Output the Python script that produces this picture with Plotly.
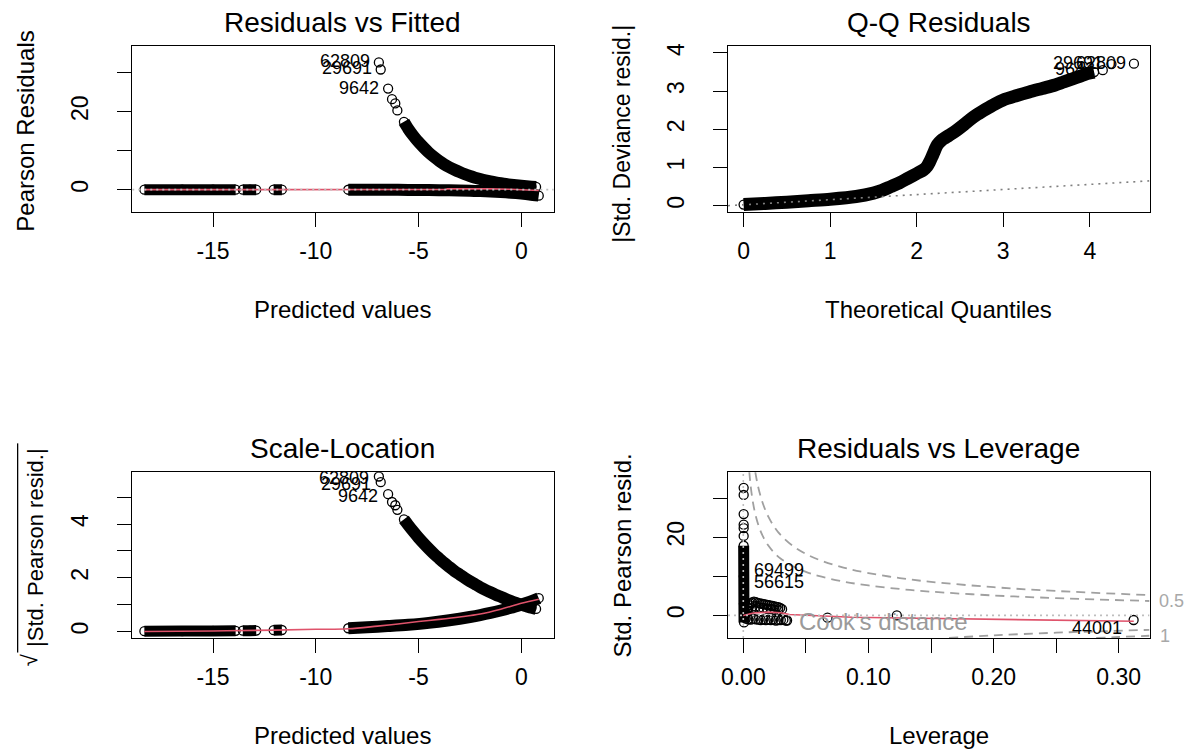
import plotly.graph_objects as go

W, H = 1186, 753
FONT = "Liberation Sans, Arial, sans-serif"
RED = "#DF536B"

# ---------------- Panel 1: Residuals vs Fitted ----------------
rvf_pos_fitted = [-5.71, -5.5, -5.25, -5.0, -4.75, -4.5, -4.25, -4.0, -3.75, -3.5, -3.25, -3.0, -2.75,
                  -2.5, -2.25, -2.0, -1.75, -1.5, -1.25, -1.0, -0.75, -0.5, -0.25, 0.0, 0.25, 0.5, 0.72]
rvf_pos_resid = [17.4, 15.6, 13.8, 12.2, 10.8, 9.5, 8.4, 7.4, 6.5, 5.75, 5.1, 4.5, 3.96,
                 3.5, 3.08, 2.72, 2.4, 2.12, 1.87, 1.65, 1.45, 1.28, 1.13, 1.0, 0.88, 0.78, 0.7]
rvf_neg_fitted = [-8.42, -7.5, -6.5, -5.5, -4.5, -3.5, -2.5, -2.0, -1.5, -1.0, -0.5, 0.0, 0.4, 0.85]
rvf_neg_resid = [-0.015, -0.024, -0.039, -0.064, -0.105, -0.174, -0.287, -0.368, -0.472, -0.607,
                 -0.779, -1.0, -1.22, -1.53]
rvf_low_a_fitted = [-18.34, -16.5, -15.0, -13.9]
rvf_low_a_resid = [-0.0001, -0.0002, -0.0003, -0.0005]
rvf_low_b_fitted = [-13.55, -13.2, -12.9]
rvf_low_b_resid = [-0.0006, -0.0007, -0.0008]
rvf_low_c_fitted = [-12.05, -11.65]
rvf_low_c_resid = [-0.001, -0.0015]
rvf_out_fitted = [-6.93, -6.84, -6.48, -6.29, -6.13, -6.03]
rvf_out_resid = [32.6, 30.8, 25.9, 23.2, 22.1, 20.3]
rvf_smooth_fitted = [-18.34, -15.0, -12.0, -8.42, -6.0, -4.5, -3.7, -3.6, -2.5, -1.5, -0.5, 0.3, 0.85]
rvf_smooth_resid = [0.0, 0.0, 0.0, 0.0, 0.01, 0.02, 0.05, 0.2, 0.25, 0.2, 0.1, -0.05, -0.2]
id_labels = ["62809", "29691", "9642"]

# ---------------- Panel 2: Q-Q Residuals ----------------
qq_theor = [0.0, 0.25, 0.5, 0.75, 1.0, 1.3, 1.5, 1.6, 1.7, 1.8, 1.9, 2.0, 2.08, 2.12, 2.15, 2.18,
            2.21, 2.24, 2.28, 2.33, 2.4, 2.47, 2.55, 2.62, 2.7, 2.8, 2.9, 3.0, 3.15, 3.3, 3.45,
            3.6, 3.7, 3.8, 3.9, 3.97, 4.05]
qq_resid = [0.03, 0.06, 0.09, 0.13, 0.17, 0.24, 0.33, 0.4, 0.5, 0.6, 0.72, 0.84, 0.94, 1.03, 1.15,
            1.3, 1.46, 1.6, 1.7, 1.78, 1.88, 1.99, 2.13, 2.26, 2.39, 2.53, 2.66, 2.77, 2.88, 2.98,
            3.07, 3.16, 3.24, 3.32, 3.4, 3.46, 3.5]
qq_out_theor = [4.15, 4.25, 4.51]
qq_out_resid = [3.55, 3.71, 3.72]
qq_ref_theor = [-0.18, 4.69]
qq_ref_resid = [0.0, 0.65]
qq_labels = ["9642", "29691", "62809"]

# ---------------- Panel 3: Scale-Location ----------------
sl_pos_fitted = rvf_pos_fitted
sl_pos_sqrt = [4.17, 3.96, 3.72, 3.49, 3.28, 3.08, 2.89, 2.72, 2.55, 2.40, 2.25, 2.12, 1.99,
               1.87, 1.76, 1.65, 1.55, 1.46, 1.37, 1.29, 1.21, 1.13, 1.06, 1.0, 0.94, 0.88, 0.84]
sl_neg_fitted = rvf_neg_fitted
sl_neg_sqrt = [0.12, 0.155, 0.2, 0.25, 0.32, 0.42, 0.54, 0.61, 0.69, 0.78, 0.88, 1.0, 1.1, 1.24]
sl_low_a_sqrt = [0.01, 0.015, 0.02, 0.025]
sl_low_b_sqrt = [0.03, 0.03, 0.035]
sl_low_c_sqrt = [0.05, 0.055]
sl_out_sqrt = [5.77, 5.56, 5.11, 4.82, 4.70, 4.53]
sl_smooth_fitted = [-18.34, -15.0, -12.0, -10.0, -8.42, -7.0, -6.0, -5.0, -4.0, -3.0, -2.0, -1.0, 0.0, 0.85]
sl_smooth_sqrt = [0.0, 0.02, 0.05, 0.08, 0.1, 0.2, 0.28, 0.37, 0.45, 0.54, 0.65, 0.83, 1.05, 1.2]

# ---------------- Panel 4: Residuals vs Leverage ----------------
lev_col_h = [0.0003, 0.0004, 0.0005, 0.0006]
lev_col_r = [17.8, 10.0, 3.0, -1.8]
lev_out_h = [0.0003, 0.0003, 0.0003, 0.0003, 0.0003, 0.0003]
lev_out_r = [32.6, 30.8, 25.9, 23.2, 22.3, 20.3]
lev_up_h = [0.002, 0.003, 0.004, 0.005, 0.006, 0.007, 0.0085, 0.010, 0.0115, 0.013, 0.0145, 0.016,
            0.0175, 0.019, 0.0205, 0.022, 0.0235, 0.025, 0.0265, 0.028, 0.0295, 0.031,
            0.004, 0.007, 0.010, 0.013, 0.016, 0.019, 0.022, 0.025, 0.028]
lev_up_r = [0.5, 1.2, 2.0, 2.6, 3.0, 3.3, 3.5, 3.4, 3.2, 3.1, 3.0, 2.9, 2.8, 2.7, 2.6, 2.5,
            2.4, 2.3, 2.2, 2.1, 1.9, 1.6,
            1.0, 1.8, 2.3, 2.0, 1.9, 1.7, 1.6, 1.4, 1.3]
lev_lo_h = [0.002, 0.004, 0.006, 0.008, 0.010, 0.012, 0.014, 0.016, 0.018, 0.020, 0.022, 0.024,
            0.026, 0.028, 0.030, 0.032, 0.034, 0.035]
lev_lo_r = [-0.8, -1.0, -1.1, -0.9, -1.0, -1.1, -1.2, -1.0, -1.2, -1.1, -1.2, -1.0, -1.3, -1.2,
            -1.2, -1.1, -1.3, -1.3]
lev_far_h = [0.0673, 0.1227, 0.3119]
lev_far_r = [-0.59, 0.0, -1.17]
lev_smooth_h = [0.0, 0.008, 0.02, 0.03, 0.037, 0.06, 0.087, 0.127, 0.19, 0.25, 0.312]
lev_smooth_r = [0.0, 0.6, 0.85, 0.7, 0.25, -0.15, -0.45, -0.67, -1.0, -1.35, -1.5]
cook1_h = [0.0096, 0.011, 0.013, 0.016, 0.02, 0.025, 0.03, 0.04, 0.05, 0.06, 0.08, 0.1, 0.125,
           0.15, 0.2, 0.25, 0.3246]
cook1_r = [36.63, 34.19, 31.42, 28.28, 25.24, 22.52, 20.50, 17.66, 15.72, 14.27, 12.23, 10.82,
           9.54, 8.58, 7.21, 6.24, 5.20]
cook05_h = [0.0048, 0.0055, 0.0065, 0.008, 0.01, 0.013, 0.016, 0.02, 0.025, 0.03, 0.04, 0.05,
            0.06, 0.08, 0.1, 0.125, 0.15, 0.2, 0.25, 0.3246]
cook05_r = [36.71, 34.28, 31.52, 28.39, 25.37, 22.21, 19.99, 17.85, 15.92, 14.50, 12.49, 11.11,
            10.09, 8.65, 7.65, 6.75, 6.07, 5.10, 4.42, 3.68]
cook05_lo_h = [0.1644, 0.2, 0.25, 0.3246]
cook05_lo_r = [-5.75, -5.10, -4.42, -3.68]
cook1_lo_h = [0.282, 0.3, 0.3246]
cook1_lo_r = [-5.75, -5.51, -5.20]
lev_labels = ["69499", "56615"]
lev_label_h = [0.003, 0.003]
lev_label_r = [11.37, 8.4]
lev_far_label = "44001"
cook_levels = ["0.5", "1"]

# ---------------- layout geometry (pixels) ----------------
def pxx(px):
    return px / W

def pxy(py):
    return 1 - py / H

L1, R1 = 126, 550
L2, R2 = 725.3, 1149.3
T1, B1 = 42.7, 209.3
T2, B2 = 470.7, 637.3

fig = go.Figure()

circ = dict(symbol="circle-open", size=9, color="black", line=dict(width=1.3, color="black"))


def band(x, y, xa, ya, width=12):
    fig.add_trace(go.Scatter(x=x, y=y, mode="lines+markers", xaxis=xa, yaxis=ya,
                             line=dict(color="black", width=width, shape="spline", smoothing=0.8),
                             marker=circ, hoverinfo="skip", showlegend=False))


def pts(x, y, xa, ya):
    fig.add_trace(go.Scatter(x=x, y=y, mode="markers", xaxis=xa, yaxis=ya, marker=circ,
                             hoverinfo="skip", showlegend=False))


def line(x, y, xa, ya, color, width, dash="solid", shape="linear"):
    fig.add_trace(go.Scatter(x=x, y=y, mode="lines", xaxis=xa, yaxis=ya,
                             line=dict(color=color, width=width, dash=dash, shape=shape),
                             hoverinfo="skip", showlegend=False))


# Panel 1
band(rvf_low_a_fitted, rvf_low_a_resid, "x", "y", 11)
band(rvf_low_b_fitted, rvf_low_b_resid, "x", "y", 11)
band(rvf_low_c_fitted, rvf_low_c_resid, "x", "y", 11)
band(rvf_neg_fitted, rvf_neg_resid, "x", "y")
band(rvf_pos_fitted, rvf_pos_resid, "x", "y")
pts(rvf_out_fitted, rvf_out_resid, "x", "y")
line(rvf_smooth_fitted, rvf_smooth_resid, "x", "y", RED, 1.6)
line([-18.93, 1.58], [0, 0], "x", "y", "#BEBEBE", 1.6, "2px,4px")

# Panel 2
band(qq_theor, qq_resid, "x2", "y2", width=13)
pts(qq_out_theor, qq_out_resid, "x2", "y2")
line(qq_ref_theor, qq_ref_resid, "x2", "y2", "#7F7F7F", 1.6, "2px,5px")

# Panel 3
band(rvf_low_a_fitted, sl_low_a_sqrt, "x3", "y3", 11)
band(rvf_low_b_fitted, sl_low_b_sqrt, "x3", "y3", 11)
band(rvf_low_c_fitted, sl_low_c_sqrt, "x3", "y3", 11)
band(sl_neg_fitted, sl_neg_sqrt, "x3", "y3")
band(sl_pos_fitted, sl_pos_sqrt, "x3", "y3")
pts(rvf_out_fitted, sl_out_sqrt, "x3", "y3")
line(sl_smooth_fitted, sl_smooth_sqrt, "x3", "y3", RED, 1.6, shape="spline")

# Panel 4
band(lev_col_h, lev_col_r, "x4", "y4", width=11)
pts(lev_out_h, lev_out_r, "x4", "y4")
pts(lev_up_h, lev_up_r, "x4", "y4")
pts(lev_lo_h, lev_lo_r, "x4", "y4")
pts(lev_far_h, lev_far_r, "x4", "y4")
line(lev_smooth_h, lev_smooth_r, "x4", "y4", RED, 1.6)
line([-0.0122, 0.3246], [0, 0], "x4", "y4", "#BEBEBE", 1.6, "2px,4px")
line([0, 0], [-5.75, 36.6], "x4", "y4", "#BEBEBE", 1.6, "2px,4px")
for hh, rr in [(cook1_h, cook1_r), (cook05_h, cook05_r), (cook05_lo_h, cook05_lo_r), (cook1_lo_h, cook1_lo_r)]:
    line(hh, rr, "x4", "y4", "#A0A0A0", 1.8, "9px,6px", "spline")


def axis(domain, rng, tickvals, ticktext, anchor, is_y):
    return dict(domain=domain, range=rng, tickmode="array", tickvals=tickvals, ticktext=ticktext,
                showline=True, mirror=True, linecolor="black", linewidth=1.3,
                ticks="outside", ticklen=14, tickwidth=1.3, tickcolor="black",
                showgrid=False, zeroline=False, anchor=anchor,
                tickfont=dict(size=23, color="black", family=FONT),
                tickangle=-90 if is_y else 0,
                ticklabelstandoff=20 if is_y else 4, fixedrange=True)


xd1 = [pxx(L1), pxx(R1)]
xd2 = [pxx(L2), pxx(R2)]
yd1 = [pxy(B1), pxy(T1)]
yd2 = [pxy(B2), pxy(T2)]

fig.update_layout(
    width=W, height=H, margin=dict(l=0, r=0, t=0, b=0),
    paper_bgcolor="white", plot_bgcolor="white", showlegend=False,
    font=dict(family=FONT, color="black"),
    xaxis=axis(xd1, [-18.93, 1.58], [-15, -10, -5, 0], ["-15", "-10", "-5", "0"], "y", False),
    yaxis=axis(yd1, [-5.77, 36.7], [0, 10, 20, 30], ["0", "", "20", ""], "x", True),
    xaxis2=axis(xd2, [-0.18, 4.69], [0, 1, 2, 3, 4], ["0", "1", "2", "3", "4"], "y2", False),
    yaxis2=axis(yd1, [-0.17, 4.17], [0, 1, 2, 3, 4], ["0", "1", "2", "3", "4"], "x2", True),
    xaxis3=axis(xd1, [-18.93, 1.58], [-15, -10, -5, 0], ["-15", "-10", "-5", "0"], "y3", False),
    yaxis3=axis(yd2, [-0.24, 5.93], [0, 1, 2, 3, 4, 5], ["0", "", "2", "", "4", ""], "x3", True),
    xaxis4=axis(xd2, [-0.0122, 0.3246], [0, 0.05, 0.10, 0.15, 0.20, 0.25, 0.30],
                ["0.00", "", "0.10", "", "0.20", "", "0.30"], "y4", False),
    yaxis4=axis(yd2, [-5.75, 36.6], [0, 10, 20, 30], ["0", "", "20", ""], "x4", True),
)

ann = []


def ptext(text, px, py, size, angle=0, color="black", xanchor="center"):
    ann.append(dict(text=text, x=pxx(px), y=pxy(py), xref="paper", yref="paper",
                    xanchor=xanchor, yanchor="middle", textangle=angle, showarrow=False,
                    font=dict(size=size, color=color, family=FONT)))


# titles
ptext("Residuals vs Fitted", 337.5, 18.5, 28)
ptext("Q-Q Residuals", 937.3, 18.5, 28)
ptext("Scale-Location", 337.5, 446.5, 28)
ptext("Residuals vs Leverage", 937.3, 446.5, 28)
# x titles
ptext("Predicted values", 337.5, 307, 24)
ptext("Theoretical Quantiles", 937.3, 307, 24)
ptext("Predicted values", 337.5, 735, 24)
ptext("Leverage", 937.3, 735, 24)
# y titles
ptext("Pearson Residuals", 19, 127.5, 24, -90)
ptext("|Std. Deviance resid.|", 619, 130, 23, -90)
ptext("|Std. Pearson resid.|", 28, 546, 22, -90)
ptext("√", 23, 659, 22, -90)
ptext("Std. Pearson resid.", 619, 554, 24, -90)
# Cook's distance legend and contour labels
ptext("Cook's distance", 795, 621, 24, color="#9A9A9A", xanchor="left")
ann.append(dict(text=cook_levels[0], x=pxx(1156.7), y=cook05_r[-1], xref="paper", yref="y4",
                xanchor="left", yanchor="middle", showarrow=False,
                font=dict(size=18, color="#A8A8A8", family=FONT)))
ann.append(dict(text=cook_levels[1], x=pxx(1158), y=cook1_lo_r[-1], xref="paper", yref="y4",
                xanchor="left", yanchor="middle", showarrow=False,
                font=dict(size=18, color="#A8A8A8", family=FONT)))


def idlab(text, x, y, xa, ya, xanchor, xshift, yshift=0):
    ann.append(dict(text=text, x=x, y=y, xref=xa, yref=ya, xanchor=xanchor, yanchor="middle",
                    xshift=xshift, yshift=yshift, showarrow=False,
                    font=dict(size=18, color="black", family=FONT)))


for i in range(3):
    idlab(id_labels[i], rvf_out_fitted[i], rvf_out_resid[i], "x", "y", "right", -7, 1)
    idlab(id_labels[i], rvf_out_fitted[i], sl_out_sqrt[i], "x3", "y3", "right", -8, -1.5)
    idlab(qq_labels[i], qq_out_theor[i], qq_out_resid[i], "x2", "y2", "right", -6, 1)
for i in range(2):
    idlab(lev_labels[i], lev_label_h[i], lev_label_r[i], "x4", "y4", "left", 5, 1)
idlab(lev_far_label, lev_far_h[2], lev_far_r[2], "x4", "y4", "right", -10, -8)

fig.update_layout(annotations=ann)
fig.add_shape(type="line", xref="paper", yref="paper", x0=pxx(10.7), x1=pxx(10.7),
              y0=pxy(441.7), y1=pxy(652), line=dict(color="black", width=1.3))

fig.write_html("out.html")
